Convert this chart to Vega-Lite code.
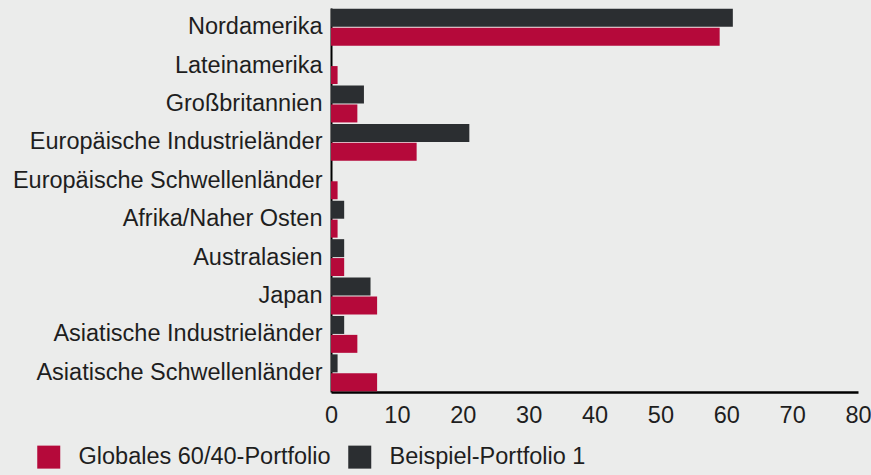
{
  "$schema": "https://vega.github.io/schema/vega-lite/v6.json",
  "width": 527,
  "height": 384,
  "autosize": {"type": "none"},
  "padding": {"left": 331, "top": 8, "right": 13, "bottom": 83},
  "background": "#ebeceb",
  "config": {
    "view": {"stroke": null},
    "font": "Liberation Sans",
    "axis": {"labelFont": "Liberation Sans", "labelColor": "#1e1e1e"},
    "legend": {"labelFont": "Liberation Sans", "labelColor": "#1e1e1e"}
  },
  "data": {
    "values": [
      {"region": "Nordamerika", "series": "Beispiel-Portfolio 1", "value": 61},
      {"region": "Nordamerika", "series": "Globales 60/40-Portfolio", "value": 59},
      {"region": "Lateinamerika", "series": "Beispiel-Portfolio 1", "value": 0},
      {"region": "Lateinamerika", "series": "Globales 60/40-Portfolio", "value": 1},
      {"region": "Großbritannien", "series": "Beispiel-Portfolio 1", "value": 5},
      {"region": "Großbritannien", "series": "Globales 60/40-Portfolio", "value": 4},
      {"region": "Europäische Industrieländer", "series": "Beispiel-Portfolio 1", "value": 21},
      {"region": "Europäische Industrieländer", "series": "Globales 60/40-Portfolio", "value": 13},
      {"region": "Europäische Schwellenländer", "series": "Beispiel-Portfolio 1", "value": 0},
      {"region": "Europäische Schwellenländer", "series": "Globales 60/40-Portfolio", "value": 1},
      {"region": "Afrika/Naher Osten", "series": "Beispiel-Portfolio 1", "value": 2},
      {"region": "Afrika/Naher Osten", "series": "Globales 60/40-Portfolio", "value": 1},
      {"region": "Australasien", "series": "Beispiel-Portfolio 1", "value": 2},
      {"region": "Australasien", "series": "Globales 60/40-Portfolio", "value": 2},
      {"region": "Japan", "series": "Beispiel-Portfolio 1", "value": 6},
      {"region": "Japan", "series": "Globales 60/40-Portfolio", "value": 7},
      {"region": "Asiatische Industrieländer", "series": "Beispiel-Portfolio 1", "value": 2},
      {"region": "Asiatische Industrieländer", "series": "Globales 60/40-Portfolio", "value": 4},
      {"region": "Asiatische Schwellenländer", "series": "Beispiel-Portfolio 1", "value": 1},
      {"region": "Asiatische Schwellenländer", "series": "Globales 60/40-Portfolio", "value": 7}
    ]
  },
  "mark": {"type": "bar"},
  "encoding": {
    "y": {
      "field": "region",
      "type": "nominal",
      "sort": ["Nordamerika", "Lateinamerika", "Großbritannien", "Europäische Industrieländer", "Europäische Schwellenländer", "Afrika/Naher Osten", "Australasien", "Japan", "Asiatische Industrieländer", "Asiatische Schwellenländer"],
      "scale": {"paddingInner": 0.04, "paddingOuter": 0.02},
      "axis": {"title": null, "ticks": false, "domainColor": "#000000", "domainWidth": 2, "labelPadding": 9, "labelFontSize": 23.5, "labelLimit": 400}
    },
    "yOffset": {
      "field": "series",
      "type": "nominal",
      "sort": ["Beispiel-Portfolio 1", "Globales 60/40-Portfolio"],
      "scale": {"paddingInner": 0.05}
    },
    "x": {
      "field": "value",
      "type": "quantitative",
      "scale": {"domain": [0, 80], "nice": false},
      "axis": {"title": null, "grid": false, "ticks": false, "values": [0, 10, 20, 30, 40, 50, 60, 70, 80], "domainColor": "#000000", "domainWidth": 2.5, "labelPadding": 11, "labelFontSize": 23.5, "labelFlush": false}
    },
    "color": {
      "field": "series",
      "type": "nominal",
      "scale": {"domain": ["Globales 60/40-Portfolio", "Beispiel-Portfolio 1"], "range": ["#b5093a", "#2b2e31"]},
      "legend": {"title": null, "orient": "none", "legendX": -294, "legendY": 437, "direction": "horizontal", "symbolType": "square", "symbolSize": 529, "symbolStrokeWidth": 0, "symbolOpacity": 1, "labelFontSize": 23.5, "labelOffset": 18, "columnPadding": 17, "labelLimit": 400}
    }
  }
}
